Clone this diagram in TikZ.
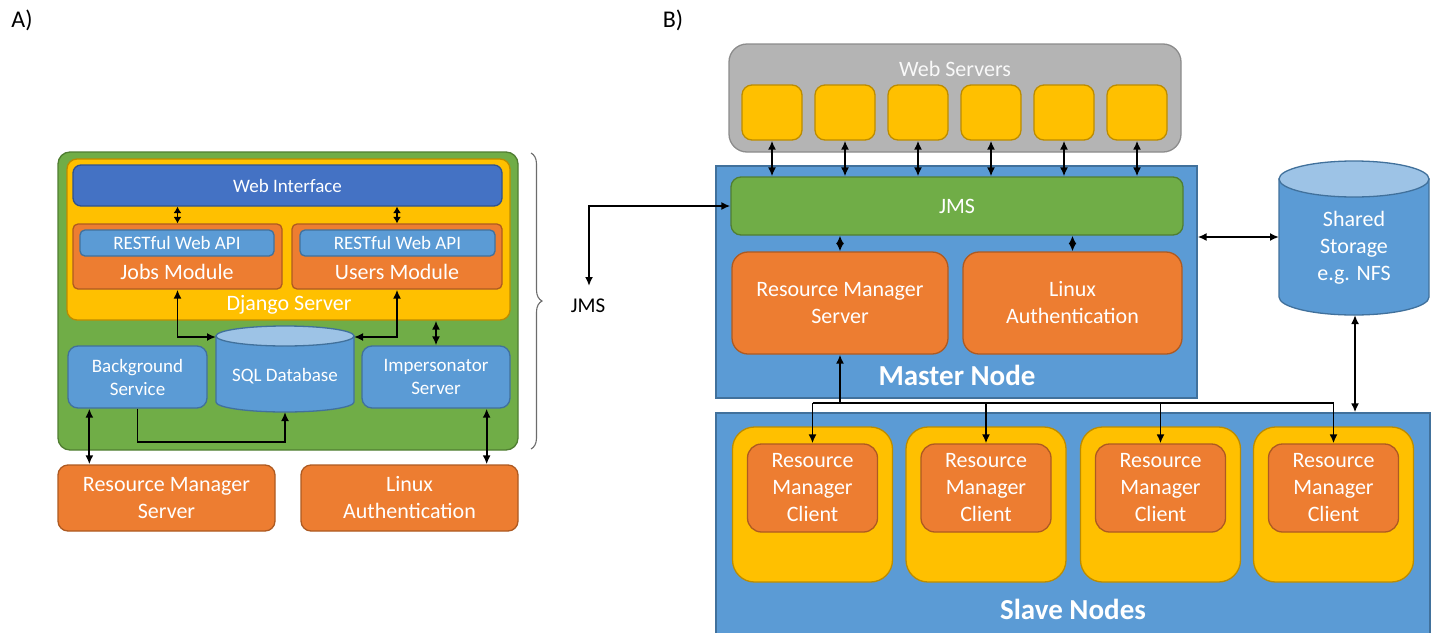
\documentclass[tikz,border=0pt]{standalone}
\usepackage{fontspec}
\setmainfont{Carlito}
\usetikzlibrary{arrows.meta,decorations.pathreplacing}
\definecolor{orF}{HTML}{ED7D31}\definecolor{orD}{HTML}{AE5A21}
\definecolor{blF}{HTML}{5B9BD5}\definecolor{blD}{HTML}{41719C}
\definecolor{dbF}{HTML}{4472C4}\definecolor{dbD}{HTML}{2F528F}
\definecolor{grF}{HTML}{70AD47}\definecolor{grD}{HTML}{507E32}
\definecolor{yeF}{HTML}{FFC000}\definecolor{yeD}{HTML}{BC8C00}
\definecolor{gyF}{HTML}{B4B4B4}\definecolor{gyD}{HTML}{8C8C8C}
\definecolor{ltB}{HTML}{9DC3E6}
\tikzset{
  base/.style={inner sep=0pt, line width=1.3pt, text=white, align=center},
  orbox/.style={base, fill=orF, draw=orD},
  blbox/.style={base, fill=blF, draw=blD},
  dbbox/.style={base, fill=dbF, draw=dbD},
  grbox/.style={base, fill=grF, draw=grD},
  yebox/.style={base, fill=yeF, draw=yeD},
  gybox/.style={base, fill=gyF, draw=gyD},
  tA/.style={font=\fontsize{19}{23}\selectfont},
  tB/.style={font=\fontsize{22}{27}\selectfont},
  tBold/.style={font=\fontsize{29}{34}\selectfont\bfseries},
  lbl/.style={inner sep=0pt, text=white, align=center},
  arr/.style={line width=1.8pt, -{Latex[length=9pt,width=8pt]}},
  darr/.style={line width=1.8pt, {Latex[length=9pt,width=8pt]}-{Latex[length=9pt,width=8pt]}},
  sdarr/.style={line width=1.8pt, {Latex[length=6.5pt,width=8pt]}-{Latex[length=6.5pt,width=8pt]}},
  dia/.style={line width=1.8pt, {Latex[length=8.5pt,width=8pt]}-{Latex[length=8.5pt,width=8pt]}},
  plain/.style={line width=1.8pt},
}
\newcommand\mycyl[6]{% L R ytop ybot rx ry
  \filldraw[fill=blF, draw=blD, line width=1.3pt] (#1,#3) -- (#1,#4) arc[start angle=180, end angle=360, x radius=#5pt, y radius=#6pt] -- (#2,#3) -- cycle;
  \filldraw[fill=ltB, draw=blD, line width=1.3pt] ({(#1+#2)/2},#3) ellipse [x radius=#5pt, y radius=#6pt];
}
\begin{document}
\begin{tikzpicture}[x=1pt, y=-1pt]
\useasboundingbox (0,0) rectangle (1437,632);
\fill[white] (0,0) rectangle (1437,632);

% ---------------- Panel A ----------------
\node[tB, font=\fontsize{24}{28}\selectfont, inner sep=0pt] (labA) at (22,20) {A)};
\node[grbox, minimum width=460pt, minimum height=298pt, rounded corners=12pt] (outerA) at (288,301) {};
\node[yebox, minimum width=443pt, minimum height=161pt, rounded corners=10pt] (django) at (288.5,239.5) {};
\node[lbl, tB] (djlbl) at (289,305) {Django Server};
\node[dbbox, tA, minimum width=429pt, minimum height=41pt, rounded corners=8pt] (web) at (287.5,185.5) {Web Interface};
\node[orbox, minimum width=209pt, minimum height=65pt, rounded corners=5pt] (jobs) at (177.5,256.5) {};
\node[blbox, tA, minimum width=194pt, minimum height=26pt, rounded corners=5pt] (restJ) at (177,243) {RESTful Web API};
\node[lbl, tB] (jobsl) at (177,272) {Jobs Module};
\node[orbox, minimum width=210pt, minimum height=65pt, rounded corners=5pt] (users) at (397,256.5) {};
\node[blbox, tA, minimum width=195pt, minimum height=26pt, rounded corners=5pt] (restU) at (397.5,243) {RESTful Web API};
\node[lbl, tB] (usersl) at (397,272) {Users Module};

\mycyl{216}{354}{336}{402}{69}{10}
\node[lbl, tA] (sql) at (285,376) {SQL Database};
\coordinate (sqlL) at (216,337);
\coordinate (sqlR) at (354,337);
\coordinate (sqlB) at (285,412);

\node[blbox, tA, minimum width=139pt, minimum height=62pt, rounded corners=10pt] (bg) at (137.5,377) {Background\\Service};
\node[blbox, tA, minimum width=148pt, minimum height=62pt, rounded corners=10pt] (imp) at (436,377) {Impersonator\\Server};
\node[orbox, tB, minimum width=217pt, minimum height=66pt, rounded corners=10pt] (rmsA) at (166.5,498) {Resource Manager\\Server};
\node[orbox, tB, minimum width=217pt, minimum height=66pt, rounded corners=10pt] (linA) at (409.5,498) {Linux\\Authentication};

\draw[sdarr] (web.south -| jobs.north) -- (jobs.north);
\draw[sdarr] (web.south -| users.north) -- (users.north);
\draw[darr] (jobs.south) |- (sqlL);
\draw[darr] (users.south) |- (sqlR);
\draw[darr] (imp.north) -- (imp.north |- django.south);
\draw[arr] (bg.south) -- ++(0,33) -| (sqlB);
\draw[darr] ([xshift=22pt]bg.south west) -- ([xshift=22pt]bg.south west |- rmsA.north);
\draw[darr] ([xshift=-24pt]imp.south east) -- ([xshift=-24pt]imp.south east |- linA.north);

% brace and JMS label
\coordinate (brT) at (531,153);
\coordinate (brB) at (531,449);
\draw[decorate, decoration={brace, amplitude=11pt}, draw=gray!85!black, line width=1.1pt] (brT) -- (brB);
\node[tB, font=\fontsize{21}{25}\selectfont, inner sep=0pt] (jmsl) at (588,306) {JMS};
\coordinate (jmsArr) at (589,286);

% ---------------- Panel B ----------------
\node[tB, font=\fontsize{24}{28}\selectfont, inner sep=0pt] (labB) at (673,20) {B)};
\node[gybox, minimum width=452pt, minimum height=108pt, rounded corners=18pt] (wsbox) at (955,98) {};
\node[lbl, tB, text=white!95!gray] (wsl) at (955,69) {Web Servers};
\foreach \i/\x in {1/772,2/845,3/918,4/991,5/1064,6/1137}{
  \node[yebox, minimum width=60pt, minimum height=55pt, rounded corners=10pt] (ws\i) at (\x,112.5) {};
}
\node[blbox, minimum width=481pt, minimum height=232pt] (master) at (956.5,282) {};
\node[grbox, tB, minimum width=452pt, minimum height=58pt, rounded corners=10pt] (jms) at (957,206) {JMS};
\node[orbox, tB, minimum width=216pt, minimum height=102pt, rounded corners=16pt] (rmsB) at (840,303) {Resource Manager\\Server};
\node[orbox, tB, minimum width=219pt, minimum height=102pt, rounded corners=16pt] (linB) at (1072.5,303) {Linux\\Authentication};
\node[lbl, tBold] (masterl) at (957,375) {Master Node};

\foreach \i in {1,...,6}{
  \draw[darr] (ws\i.south) -- (ws\i.south |- jms.north);
}
\draw[dia] (rmsB.north |- jms.south) -- (rmsB.north);
\draw[dia] (linB.north |- jms.south) -- (linB.north);

\draw[darr] (jms.west) -| (jmsArr);

% shared storage
\mycyl{1279}{1429}{179}{297}{75}{18}
\node[lbl, tB] (sto) at (1354,248) {Shared\\Storage\\e.g. NFS};
\coordinate (stoL) at (1279,237);
\coordinate (stoB) at (1355,315);

% slave nodes
\node[blbox, minimum width=714pt, minimum height=230pt] (slave) at (1073,528) {};
\node[lbl, tBold] (slavel) at (1073,609) {Slave Nodes};
\foreach \i/\x in {1/812.5,2/986,3/1160.5,4/1333.5}{
  \node[yebox, minimum width=160pt, minimum height=155pt, rounded corners=22pt] (sn\i) at (\x,504.5) {};
  \node[orbox, tB, minimum width=130pt, minimum height=88pt, rounded corners=14pt] (rc\i) at (\x,488) {Resource\\Manager\\Client};
}

\draw[darr] (master.east |- stoL) -- (stoL);
\draw[darr] (stoB) -- (stoB |- slave.north);

\coordinate (bus) at (840,403);
\draw[arr] (bus) -- (rmsB.south);
\draw[plain] (rc1.north |- bus) -- (rc4.north |- bus);
\foreach \i in {1,...,4}{
  \draw[arr] (rc\i.north |- bus) -- (rc\i.north);
}
\end{tikzpicture}
\end{document}
